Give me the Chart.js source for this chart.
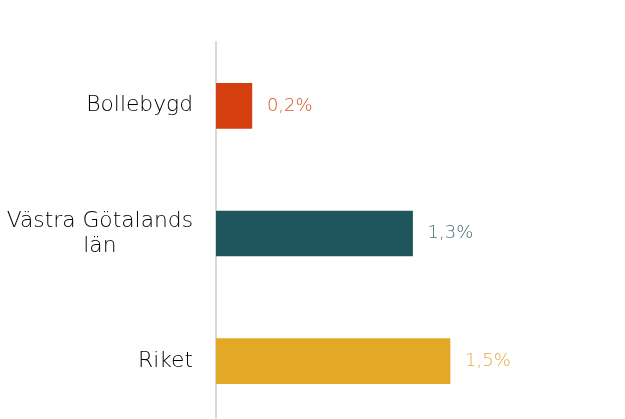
<!DOCTYPE html>
<html>
<head>
<meta charset="utf-8">
<script src="https://cdn.jsdelivr.net/npm/chart.js@4"></script>
<style>
  html, body { margin: 0; padding: 0; background: #fff; overflow: hidden; }
  .wrap { width: 625px; height: 425px; }
</style>
</head>
<body>
<div class="wrap"><canvas id="barChart"></canvas></div>
<script>
const categories = [['Bollebygd'], ['Västra Götalands', 'län'], ['Riket']];
const shareValues = [0.23, 1.26, 1.5];
const barColors = ['#D63F10', '#1F555D', '#E3A826'];
const labelColors = ['#E0542A', '#4B6F74', '#E6AA3E'];

const FONT = '"DejaVu Sans", sans-serif';

const formatPercent = (v) => v.toFixed(1).replace('.', ',') + '%';

// category labels drawn by hand so a wrapped label can be centred line by line
const categoryLabels = {
    id: 'categoryLabels',
    afterDraw(chart) {
        const ctx = chart.ctx;
        const yScale = chart.scales.y;
        const rightX = 193;
        const lineHeight = 25;
        ctx.save();
        ctx.font = '200 21.8px ' + FONT;
        ctx.fillStyle = '#000000';
        ctx.textAlign = 'center';
        ctx.textBaseline = 'middle';
        categories.forEach((lines, i) => {
            const y = yScale.getPixelForTick(i);
            const widest = Math.max(...lines.map(l => ctx.measureText(l).width));
            const cx = rightX - widest / 2;
            lines.forEach((line, j) => {
                ctx.fillText(line, cx, y + (j - (lines.length - 1) / 2) * lineHeight);
            });
        });
        ctx.restore();
    }
};

const valueLabels = {
    id: 'valueLabels',
    afterDatasetsDraw(chart) {
        const ctx = chart.ctx;
        const meta = chart.getDatasetMeta(0);
        ctx.save();
        ctx.font = '200 18px ' + FONT;
        ctx.textAlign = 'left';
        ctx.textBaseline = 'middle';
        meta.data.forEach((bar, i) => {
            ctx.fillStyle = labelColors[i];
            ctx.fillText(formatPercent(shareValues[i]), bar.x + 15, bar.y);
        });
        ctx.restore();
    }
};

new Chart(document.getElementById('barChart'), {
    type: 'bar',
    data: {
        labels: categories.map(c => c.join(' ')),
        datasets: [{
            data: shareValues,
            backgroundColor: barColors,
            barThickness: 45
        }]
    },
    options: {
        indexAxis: 'y',
        responsive: true,
        maintainAspectRatio: false,
        animation: false,
        layout: { padding: { top: 42, right: 19, bottom: 0, left: 0 } },
        scales: {
            x: {
                min: 0,
                max: 2.5,
                display: false
            },
            y: {
                afterFit: (scale) => { scale.width = 216; },
                grid: { display: false, drawTicks: false },
                border: { display: true, color: '#D9D9D9', width: 2 },
                ticks: { display: false }
            }
        },
        plugins: {
            legend: { display: false },
            tooltip: { enabled: false }
        }
    },
    plugins: [categoryLabels, valueLabels]
});
</script>
</body>
</html>
